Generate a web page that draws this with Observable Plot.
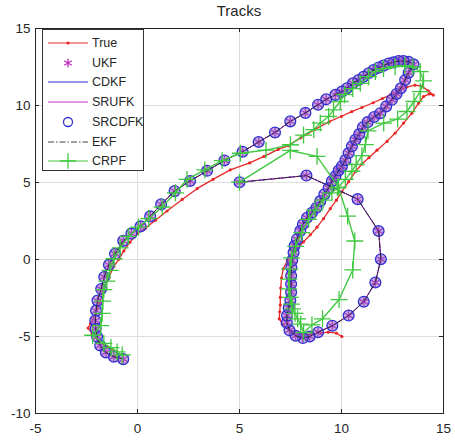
<!DOCTYPE html>
<html><head><meta charset="utf-8">
<script src="https://cdn.jsdelivr.net/npm/d3@7"></script>
<script src="https://cdn.jsdelivr.net/npm/@observablehq/plot@0.6"></script>
<style>
body{margin:0;background:#fff;font-family:"Liberation Sans",Arial,sans-serif;}
#wrap{position:relative;width:455px;height:440px;}
#title{position:absolute;left:35px;width:408px;top:2px;text-align:center;font-size:15px;color:#262626;line-height:18px;}
#legend{position:absolute;left:42px;top:29px;width:100px;height:140px;border:1px solid #333;background:#fff;}
.row{position:absolute;left:0;height:20px;display:flex;align-items:center;}
.row span{font-size:12.5px;color:#262626;margin-left:3px;}
</style>
</head><body>
<div id="wrap"><div id="title"></div><div id="chart"></div><div id="legend"></div></div>
<script>
const titleText = "Tracks";
const seriesNames = ["True","UKF","CDKF","SRUFK","SRCDFK","EKF","CRPF"];
const xTicks = [-5,0,5,10,15];
const yTicks = [-10,-5,0,5,10,15];

// True track
const trueX = [10.02,9.75,9.35,8.95,8.55,8.15,7.75,7.4,7.1,6.95,6.97,7.0,7.0,7.02,7.06,7.15,7.35,7.6,7.85,8.14,8.47,8.8,9.12,9.45,9.75,10.02,10.35,10.68,11.0,11.35,11.74,12.23,12.63,13.04,13.45,13.78,14.02,14.3,14.5,14.25,13.95,13.6,13.2,12.85,12.4,12.0,11.55,11.0,10.5,10.0,9.4,8.7,8.0,7.4,6.9,6.2,5.5,4.55,3.7,2.92,2.19,1.45,0.88,0.4,0.0,-0.37,-0.67,-0.91,-1.16,-1.41,-1.65,-1.85,-2.05,-2.3,-2.42,-2.22,-1.9,-1.48,-1.0];
const trueY = [-5.0,-4.78,-4.72,-4.78,-4.85,-4.88,-4.75,-4.5,-4.2,-3.85,-3.4,-2.95,-2.45,-1.85,-1.2,-0.6,-0.05,0.35,0.72,1.15,1.6,2.1,2.65,3.3,3.85,4.4,5.05,5.7,6.2,6.62,7.1,7.67,8.21,8.86,9.5,10.15,10.58,10.75,10.68,10.95,11.25,11.32,11.2,11.02,10.7,10.45,10.18,9.87,9.6,9.3,8.95,8.45,7.9,7.4,7.15,6.7,6.27,5.82,5.2,4.6,3.9,3.15,2.55,2.05,1.7,1.12,0.56,0.02,-0.45,-1.16,-2.0,-2.8,-3.5,-4.15,-4.45,-4.82,-5.35,-5.7,-6.0];

// UKF / CDKF / SRUFK / SRCDFK / EKF estimates (visually identical)
const kfX = [5.0,8.28,10.79,11.82,11.93,11.66,11.09,10.35,9.55,8.85,8.44,8.11,7.75,7.45,7.32,7.33,7.41,7.49,7.53,7.53,7.53,7.54,7.58,7.65,7.7,7.82,7.98,8.11,8.31,8.55,8.77,8.96,9.16,9.37,9.53,9.7,9.86,10.02,10.19,10.35,10.51,10.68,10.87,11.05,11.28,11.6,11.9,12.19,12.47,12.7,12.91,13.12,13.29,13.53,13.29,13.04,12.8,12.55,12.31,12.06,11.82,11.57,11.33,11.08,10.84,10.56,10.27,10.02,9.7,9.25,8.85,8.23,7.49,6.74,5.94,5.15,4.26,3.41,2.58,1.82,1.16,0.62,0.15,-0.3,-0.7,-1.1,-1.4,-1.63,-1.78,-1.96,-2.03,-2.07,-2.05,-1.98,-1.83,-1.55,-1.16,-0.7];
const kfY = [5.02,5.45,3.92,1.85,0.02,-1.49,-2.74,-3.64,-4.3,-4.72,-5.0,-5.1,-4.95,-4.6,-4.1,-3.64,-3.14,-2.67,-2.13,-1.59,-1.05,-0.52,-0.05,0.45,0.89,1.32,1.86,2.29,2.71,3.04,3.36,3.79,4.23,4.65,5.09,5.41,5.78,6.06,6.45,6.92,7.35,7.78,8.14,8.58,8.92,9.25,9.5,9.94,10.37,10.75,11.12,11.66,12.13,12.67,12.84,12.89,12.89,12.8,12.73,12.59,12.46,12.31,12.09,11.87,11.66,11.44,11.12,10.9,10.69,10.4,10.05,9.52,8.97,8.25,7.63,7.0,6.43,5.76,5.1,4.44,3.58,2.8,2.15,1.68,1.21,0.37,-0.35,-1.14,-1.92,-2.67,-3.32,-3.96,-4.5,-5.02,-5.58,-6.04,-6.31,-6.47];

// CRPF estimate
const crpfX = [5.0,7.49,8.8,9.85,10.3,10.65,10.55,9.88,9.07,8.55,8.14,8.0,7.85,7.72,7.6,7.55,7.49,7.42,7.42,7.47,7.55,7.75,8.05,8.39,8.7,9.1,9.53,9.8,10.19,10.51,10.72,11.0,11.17,11.3,12.07,12.75,13.21,13.55,13.86,14.02,13.86,13.5,13.1,12.63,12.06,11.66,11.33,10.92,10.55,10.15,9.94,9.61,9.37,8.96,8.64,8.14,7.5,6.3,5.04,4.15,3.3,2.43,1.86,1.21,0.55,0.05,-0.45,-0.85,-1.15,-1.35,-1.5,-1.65,-1.7,-1.73,-1.8,-2.2,-1.65,-1.3,-1.0,-0.75];
const crpfY = [5.02,7.08,6.7,4.7,2.82,1.2,-0.68,-2.6,-3.85,-4.25,-4.75,-4.2,-3.85,-3.5,-3.2,-2.9,-2.46,-1.91,-1.27,-0.62,0.1,0.85,1.75,2.61,3.2,3.85,4.33,4.65,5.2,5.73,6.17,6.75,7.46,8.35,8.86,9.12,9.61,10.26,10.9,11.6,12.2,12.5,12.58,12.52,12.4,12.2,11.87,11.44,11.1,10.7,10.26,9.72,9.29,8.86,8.43,8.08,7.45,7.1,6.9,6.42,5.82,5.2,4.33,3.41,2.65,2.1,1.5,0.75,0.05,-0.7,-1.4,-1.95,-2.7,-3.5,-4.3,-4.92,-5.45,-5.72,-6.0,-6.2];

const C = {red:"#e82828", blue:"#3030d0", mag:"#c030c0", black:"#222", green:"#40c840"};
const rows = (xs, ys) => xs.map((x, i) => ({x, y: ys[i]}));
const truth = rows(trueX, trueY), kf = rows(kfX, kfY), crpf = rows(crpfX, crpfY);

const xDom = [xTicks[0], xTicks[xTicks.length-1]];
const yDom = [yTicks[0], yTicks[yTicks.length-1]];
const W = 455, H = 440, mL = 35, mR = 12, mT = 28, mB = 27;
const tx = 4 * (xDom[1]-xDom[0]) / (W-mL-mR);
const ty = 4 * (yDom[1]-yDom[0]) / (H-mT-mB);
const fmt = d => String(d);

const chart = Plot.plot({
  width: W, height: H, marginLeft: mL, marginRight: mR, marginTop: mT, marginBottom: mB,
  x: {domain: xDom}, y: {domain: yDom},
  style: {fontFamily: "Liberation Sans, Arial, sans-serif", fontSize: "13.5px", color: "#262626", background: "#fff"},
  marks: [
    Plot.gridX(xTicks, {stroke: "#dedede", strokeOpacity: 1}),
    Plot.gridY(yTicks, {stroke: "#dedede", strokeOpacity: 1}),
    Plot.ruleX(xTicks, {x: d => d, y1: yDom[0], y2: yDom[0] + ty, stroke: "#262626"}),
    Plot.ruleX(xTicks, {x: d => d, y1: yDom[1], y2: yDom[1] - ty, stroke: "#262626"}),
    Plot.ruleY(yTicks, {y: d => d, x1: xDom[0], x2: xDom[0] + tx, stroke: "#262626"}),
    Plot.ruleY(yTicks, {y: d => d, x1: xDom[1], x2: xDom[1] - tx, stroke: "#262626"}),
    Plot.axisX(xTicks, {tickSize: 0, tickPadding: 10, tickFormat: fmt, label: null}),
    Plot.axisY(yTicks, {tickSize: 0, tickPadding: 5, tickFormat: fmt, label: null}),
    // True
    Plot.line(truth, {x: "x", y: "y", stroke: C.red, strokeWidth: 1.3}),
    Plot.dot(truth, {x: "x", y: "y", r: 1.6, fill: C.red}),
    // UKF asterisks
    Plot.dot(kf, {x: "x", y: "y", symbol: "asterisk", r: 4.5, stroke: C.mag, strokeWidth: 1.4}),
    // CDKF line
    Plot.line(kf, {x: "x", y: "y", stroke: C.blue, strokeWidth: 1}),
    // SRUFK line
    Plot.line(kf, {x: "x", y: "y", stroke: C.mag, strokeWidth: 1}),
    // SRCDFK circles
    Plot.dot(kf, {x: "x", y: "y", r: 5.4, stroke: C.blue, strokeWidth: 1.3, fill: "#9060c8", fillOpacity: 0.5}),
    // EKF dash-dot
    Plot.line(kf, {x: "x", y: "y", stroke: C.black, strokeWidth: 0.9, strokeDasharray: "6,2,1.5,2"}),
    // CRPF
    Plot.line(crpf, {x: "x", y: "y", stroke: C.green, strokeWidth: 1.4}),
    Plot.dot(crpf, {x: "x", y: "y", symbol: "plus", r: 5.5, stroke: C.green, strokeWidth: 1.3}),
    Plot.frame({stroke: "#262626", strokeWidth: 1})
  ]
});
document.getElementById("chart").appendChild(chart);
document.getElementById("title").textContent = titleText;

// Legend
const legendStyle = {
  True:   {line: C.red, dash: null, marker: "dot"},
  UKF:    {line: null, marker: "asterisk"},
  CDKF:   {line: C.blue, dash: null, marker: null},
  SRUFK:  {line: C.mag, dash: null, marker: null},
  SRCDFK: {line: null, marker: "circle"},
  EKF:    {line: "#444", dash: "6,2,1.5,2", marker: null},
  CRPF:   {line: C.green, dash: null, marker: "plus"}
};
const leg = d3.select("#legend");
seriesNames.forEach((name, i) => {
  const s = legendStyle[name];
  const row = leg.append("div").attr("class", "row").style("top", (3 + i * 19.7) + "px").style("left", "4px");
  const svg = row.append("svg").attr("width", 42).attr("height", 20);
  if (s.line) svg.append("line").attr("x1", 1).attr("x2", 41).attr("y1", 10).attr("y2", 10)
      .attr("stroke", s.line).attr("stroke-width", 1.2).attr("stroke-dasharray", s.dash);
  if (s.marker === "dot") svg.append("circle").attr("cx", 21).attr("cy", 10).attr("r", 1.6).attr("fill", C.red);
  if (s.marker === "circle") svg.append("circle").attr("cx", 21).attr("cy", 10).attr("r", 4.5).attr("fill", "none").attr("stroke", C.blue).attr("stroke-width", 1.3);
  if (s.marker === "asterisk") svg.append("path").attr("transform", "translate(21,10)")
      .attr("d", d3.symbol(d3.symbolAsterisk, 55)()).attr("stroke", C.mag).attr("stroke-width", 1.3).attr("fill", "none");
  if (s.marker === "plus") svg.append("path").attr("transform", "translate(21,10)")
      .attr("d", d3.symbol(d3.symbolPlus, 80)()).attr("stroke", C.green).attr("stroke-width", 1.3).attr("fill", "none");
  row.append("span").text(name);
});
</script>
</body></html>
